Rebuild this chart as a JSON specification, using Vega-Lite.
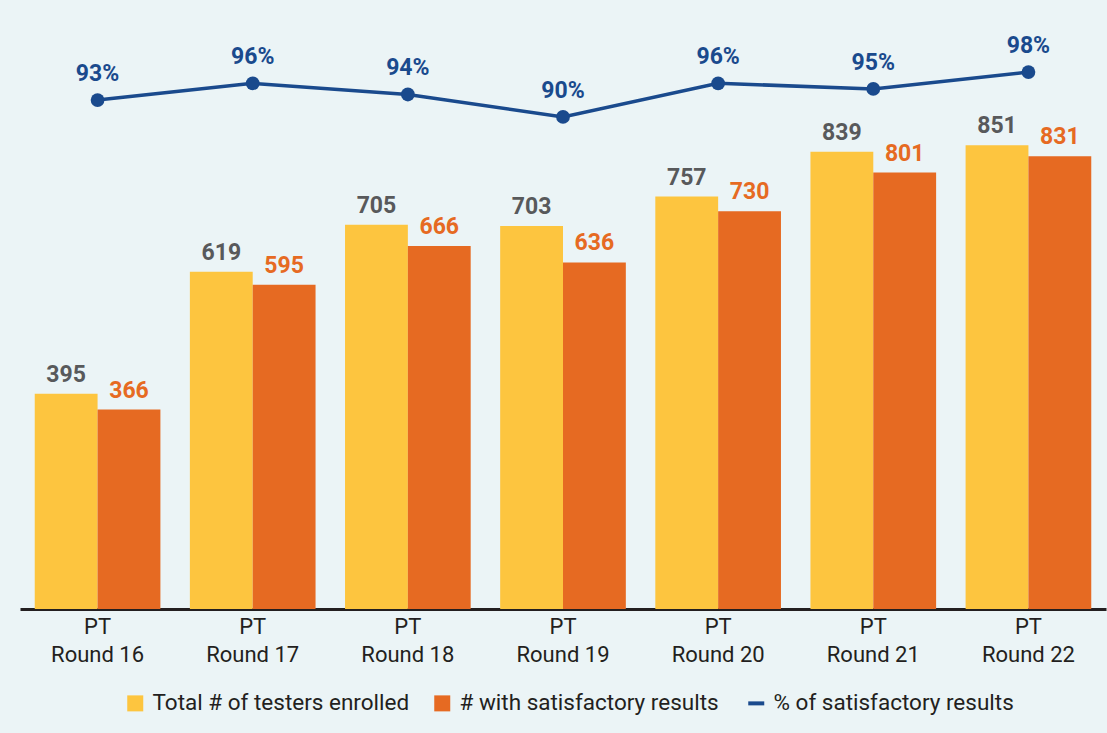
{
  "$schema": "https://vega.github.io/schema/vega-lite/v6.json",
  "width": 1086,
  "height": 589,
  "padding": {"left": 20, "top": 20, "right": 10, "bottom": 60},
  "background": "#EBF4F6",
  "config": {
    "view": {"stroke": null},
    "font": "Roboto"
  },
  "datasets": {
    "bars": [
      {"round": "PT Round 16", "series": "Total # of testers enrolled", "value": 395},
      {"round": "PT Round 16", "series": "# with satisfactory results", "value": 366},
      {"round": "PT Round 17", "series": "Total # of testers enrolled", "value": 619},
      {"round": "PT Round 17", "series": "# with satisfactory results", "value": 595},
      {"round": "PT Round 18", "series": "Total # of testers enrolled", "value": 705},
      {"round": "PT Round 18", "series": "# with satisfactory results", "value": 666},
      {"round": "PT Round 19", "series": "Total # of testers enrolled", "value": 703},
      {"round": "PT Round 19", "series": "# with satisfactory results", "value": 636},
      {"round": "PT Round 20", "series": "Total # of testers enrolled", "value": 757},
      {"round": "PT Round 20", "series": "# with satisfactory results", "value": 730},
      {"round": "PT Round 21", "series": "Total # of testers enrolled", "value": 839},
      {"round": "PT Round 21", "series": "# with satisfactory results", "value": 801},
      {"round": "PT Round 22", "series": "Total # of testers enrolled", "value": 851},
      {"round": "PT Round 22", "series": "# with satisfactory results", "value": 831}
    ],
    "pct": [
      {"round": "PT Round 16", "pct": 0.93},
      {"round": "PT Round 17", "pct": 0.96},
      {"round": "PT Round 18", "pct": 0.94},
      {"round": "PT Round 19", "pct": 0.90},
      {"round": "PT Round 20", "pct": 0.96},
      {"round": "PT Round 21", "pct": 0.95},
      {"round": "PT Round 22", "pct": 0.98}
    ]
  },
  "encoding": {
    "x": {
      "field": "round",
      "type": "nominal",
      "sort": null,
      "scale": {"paddingInner": 0.19, "paddingOuter": 0.095},
      "axis": {
        "title": null,
        "labelAngle": 0,
        "labelExpr": "['PT', replace(datum.label, 'PT ', '')]",
        "labelFontSize": 22,
        "labelLineHeight": 28,
        "labelColor": "#231F20",
        "labelPadding": 7,
        "ticks": false,
        "domainColor": "#231F20",
        "domainWidth": 3,
        "grid": false
      }
    }
  },
  "layer": [
    {
      "data": {"name": "bars"},
      "encoding": {
        "xOffset": {"field": "series", "type": "nominal", "sort": ["Total # of testers enrolled", "# with satisfactory results"], "scale": {"paddingInner": 0, "paddingOuter": 0}},
        "y": {"field": "value", "type": "quantitative", "scale": {"domain": [0, 1081]}, "axis": null}
      },
      "layer": [
        {
          "mark": {"type": "bar"},
          "encoding": {
            "color": {
              "field": "series",
              "type": "nominal",
              "scale": {
                "domain": ["Total # of testers enrolled", "# with satisfactory results", "% of satisfactory results"],
                "range": ["#FDC53F", "#E66A22", "#1A4A8D"]
              },
              "legend": {
                "title": null,
                "orient": "none",
                "direction": "horizontal",
                "legendX": 104,
                "legendY": 672,
                "labelFontSize": 22.5,
                "labelLimit": 0,
                "labelColor": "#231F20",
                "labelOffset": 6,
                "columnPadding": 21,
                "symbolSize": 256,
                "encode": {
                  "symbols": {
                    "update": {
                      "shape": {"signal": "datum.value === '% of satisfactory results' ? 'stroke' : 'square'"},
                      "fill": {"signal": "scale('color', datum.value)"},
                      "stroke": {"signal": "scale('color', datum.value)"},
                      "strokeWidth": {"signal": "datum.value === '% of satisfactory results' ? 4 : 0"},
                      "opacity": {"value": 1},
                      "fillOpacity": {"value": 1}
                    }
                  }
                }
              }
            }
          }
        },
        {
          "mark": {"type": "text", "baseline": "alphabetic", "dy": -12, "fontSize": 23, "fontWeight": "bold"},
          "encoding": {
            "text": {"field": "value", "type": "quantitative"},
            "color": {
              "condition": {"test": "datum.series === 'Total # of testers enrolled'", "value": "#58595B"},
              "value": "#E66A22"
            }
          }
        }
      ]
    },
    {
      "data": {"name": "pct"},
      "encoding": {
        "y": {"field": "pct", "type": "quantitative", "scale": {"domain": [0.0214, 1.073], "zero": false}, "axis": null}
      },
      "layer": [
        {
          "mark": {"type": "line", "strokeWidth": 3.5},
          "encoding": {
            "color": {"datum": "% of satisfactory results", "type": "nominal"}
          }
        },
        {
          "mark": {"type": "point", "filled": true, "size": 190, "opacity": 1, "color": "#1A4A8D"},
          "encoding": {}
        },
        {
          "mark": {"type": "text", "baseline": "alphabetic", "dy": -19, "fontSize": 23, "fontWeight": "bold", "color": "#1A4A8D"},
          "encoding": {
            "text": {"field": "pct", "type": "quantitative", "format": ".0%"}
          }
        }
      ]
    }
  ],
  "resolve": {"scale": {"y": "independent"}}
}
